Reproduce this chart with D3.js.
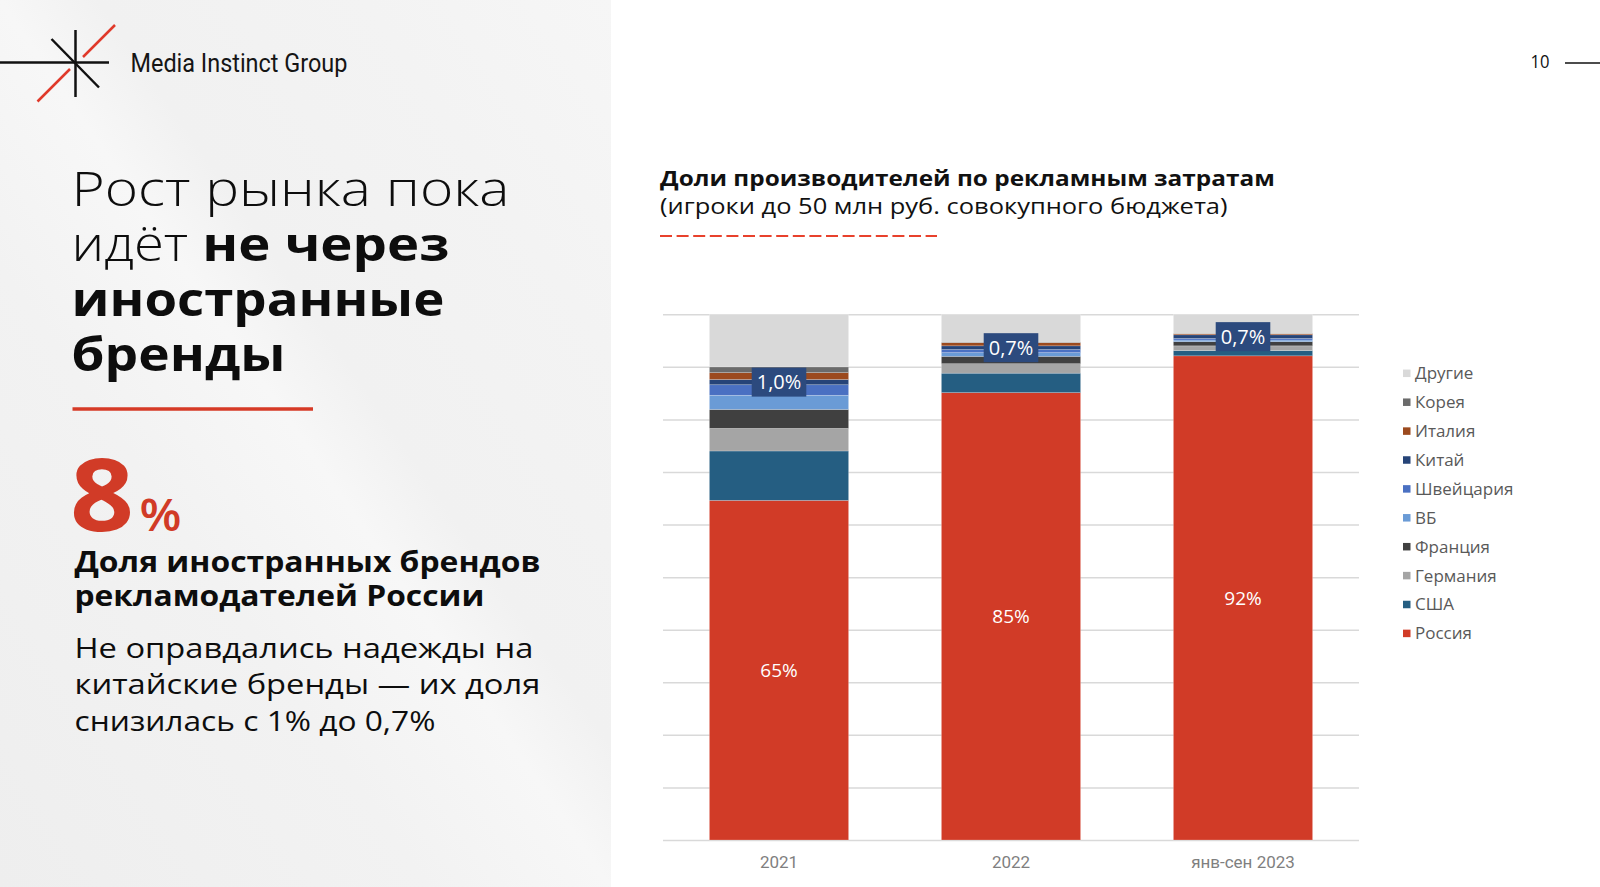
<!DOCTYPE html>
<html>
<head>
<meta charset="utf-8">
<script src="https://cdn.jsdelivr.net/npm/d3@7"></script>
<style>
  html, body { margin: 0; padding: 0; background: #ffffff; }
  svg { display: block; }
  text { font-family: "Open Sans", "Noto Sans", sans-serif; }
</style>
</head>
<body>
<svg id="chart" width="1600" height="887"></svg>
<script>
// ---------- DATA ----------
const categories = ["2021", "2022", "янв-сен 2023"];
const seriesNames = ["Россия", "США", "Германия", "Франция", "ВБ", "Швейцария", "Китай", "Италия", "Корея", "Другие"];
const russia      = [64.6, 85.1, 92.1];
const usa         = [9.4, 3.7, 1.0];
const germany     = [4.3, 1.8, 0.9];
const france      = [3.6, 1.4, 0.8];
const uk          = [2.7, 0.7, 0.3];
const switzerland = [2.0, 0.6, 0.3];
const china       = [1.0, 0.7, 0.7];
const italy       = [1.3, 0.6, 0.2];
const korea       = [1.1, 0.1, 0.1];
const other       = [10.0, 5.3, 3.6];
const russiaLabels = ["65%", "85%", "92%"];
const chinaLabels  = ["1,0%", "0,7%", "0,7%"];
const yTicks = [0, 10, 20, 30, 40, 50, 60, 70, 80, 90, 100];

const seriesColors = ["#d13b27", "#255e82", "#a5a5a5", "#404040", "#6a9bd6", "#4a70c2", "#264478", "#9c4a1e", "#6b6b6b", "#d9d9d9"];

const seriesValues = [russia, usa, germany, france, uk, switzerland, china, italy, korea, other];
const table = categories.map((c, i) => {
  const row = { cat: c };
  seriesNames.forEach((s, j) => row[s] = seriesValues[j][i]);
  return row;
});

// ---------- SVG ----------
const svg = d3.select("#chart");
const defs = svg.append("defs");

// left panel background
const grad = defs.append("linearGradient").attr("id", "bg")
  .attr("x1", "0").attr("y1", "1").attr("x2", "1").attr("y2", "0");
[["0", "#eeeeee"], ["0.35", "#f2f2f2"], ["0.5", "#f7f7f7"], ["0.58", "#f1f1f1"], ["0.8", "#f3f3f3"], ["1", "#f6f6f6"]]
  .forEach(([o, c]) => grad.append("stop").attr("offset", o).attr("stop-color", c));
svg.append("rect").attr("x", 0).attr("y", 0).attr("width", 611).attr("height", 887).attr("fill", "url(#bg)");

function fitText(parent, x, y, parts, size, targetW, fill, family) {
  const t = parent.append("text").attr("font-size", size).attr("fill", fill);
  if (family) t.style("font-family", family);
  parts.forEach(p => t.append("tspan").attr("font-weight", p.w).text(p.t));
  const w = t.node().getBBox().width;
  const sx = targetW ? targetW / w : 1;
  t.attr("transform", `translate(${x},${y}) scale(${sx},1)`);
  return t;
}

// ---------- LOGO ----------
const logo = svg.append("g");
logo.append("line").attr("x1", 0).attr("y1", 62.5).attr("x2", 109).attr("y2", 62.5).attr("stroke", "#111").attr("stroke-width", 2.5);
logo.append("line").attr("x1", 75.5).attr("y1", 30).attr("x2", 75.5).attr("y2", 97).attr("stroke", "#111").attr("stroke-width", 2.5);
logo.append("line").attr("x1", 51.5).attr("y1", 39).attr("x2", 99).attr("y2", 87.5).attr("stroke", "#111").attr("stroke-width", 2.5);
logo.append("line").attr("x1", 115).attr("y1", 25).attr("x2", 83).attr("y2", 57).attr("stroke", "#e0392a").attr("stroke-width", 2.5);
logo.append("line").attr("x1", 70).attr("y1", 69).attr("x2", 37.5).attr("y2", 101.5).attr("stroke", "#e0392a").attr("stroke-width", 2.5);
fitText(svg, 130.5, 72, [{ t: "Media Instinct Group", w: 400 }], 25, 217, "#151515", "Roboto");

// ---------- LEFT TEXT ----------
const ink = "#0d0d0d";
fitText(svg, 71.5, 206, [{ t: "Рост рынка пока", w: 300 }], 47, 438, ink);
fitText(svg, 71.5, 261, [{ t: "идёт ", w: 300 }, { t: "не через", w: 700 }], 47, 378, ink);
fitText(svg, 71.5, 316, [{ t: "иностранные", w: 700 }], 47, 373, ink);
fitText(svg, 71.5, 371, [{ t: "бренды", w: 700 }], 47, 214, ink);
svg.append("line").attr("x1", 72.5).attr("x2", 313).attr("y1", 409).attr("y2", 409)
  .attr("stroke", "#d63a26").attr("stroke-width", 3.5);

fitText(svg, 70, 531, [{ t: "8", w: 700 }], 100, 64, "#d13b27");
fitText(svg, 139.5, 531, [{ t: "%", w: 600 }], 46, 42, "#d13b27");
fitText(svg, 74.5, 572, [{ t: "Доля иностранных брендов", w: 700 }], 28, 466, ink);
fitText(svg, 74.5, 606, [{ t: "рекламодателей России", w: 700 }], 28, 410, ink);
fitText(svg, 74.5, 658, [{ t: "Не оправдались надежды на", w: 400 }], 27, 459, ink);
fitText(svg, 74.5, 694, [{ t: "китайские бренды — их доля", w: 400 }], 27, 466, ink);
fitText(svg, 74.5, 731, [{ t: "снизилась с 1% до 0,7%", w: 400 }], 27, 361, ink);

// ---------- PAGE NUMBER ----------
fitText(svg, 1530.5, 68, [{ t: "10", w: 400 }], 19, 19, "#111");
svg.append("line").attr("x1", 1565).attr("x2", 1600).attr("y1", 63).attr("y2", 63).attr("stroke", "#111").attr("stroke-width", 1.5);

// ---------- CHART TITLE ----------
fitText(svg, 660, 186, [{ t: "Доли производителей по рекламным затратам", w: 700 }], 21, 615, "#111");
fitText(svg, 660, 214, [{ t: "(игроки до 50 млн руб. совокупного бюджета)", w: 400 }], 21, 568, "#111");
svg.append("line").attr("x1", 660).attr("x2", 937).attr("y1", 236).attr("y2", 236)
  .attr("stroke", "#e8412c").attr("stroke-width", 2).attr("stroke-dasharray", "12,4.6");

// ---------- CHART ----------
const plotL = 663, plotR = 1359, plotT = 314.3, plotB = 840;
const x = d3.scaleBand().domain(categories).range([plotL, plotR]).paddingInner(0.4).paddingOuter(0.2);
const y = d3.scaleLinear().domain([0, 100]).range([plotB, plotT]);
const color = d3.scaleOrdinal().domain(seriesNames).range(seriesColors);

// gridlines
const grid = svg.append("g").attr("transform", `translate(${plotL},0)`)
  .call(d3.axisLeft(y).tickValues(yTicks).tickSize(-(plotR - plotL)).tickFormat(""));
grid.select(".domain").remove();
grid.selectAll(".tick line").attr("stroke", "#d9d9d9").attr("stroke-width", 1.5);

const stacked = d3.stack().keys(seriesNames)(table);

const layers = svg.append("g").selectAll("g").data(stacked).join("g")
  .attr("fill", d => color(d.key));
layers.selectAll("rect").data(d => d).join("rect")
  .attr("x", d => x(d.data.cat))
  .attr("width", x.bandwidth())
  .attr("y", d => y(d[1]))
  .attr("height", d => y(d[0]) - y(d[1]))
  .attr("stroke", "#ffffff").attr("stroke-opacity", 0.35).attr("stroke-width", 0.6);

// Russia labels
const rusLayer = stacked[0];
svg.append("g").selectAll("text").data(rusLayer).join("text")
  .attr("x", d => x(d.data.cat) + x.bandwidth() / 2)
  .attr("y", d => (y(d[0]) + y(d[1])) / 2)
  .attr("dy", "0.35em")
  .attr("text-anchor", "middle")
  .attr("fill", "#ffffff")
  .attr("font-size", 19)
  .text((d, i) => russiaLabels[i]);

// China labels (boxed)
const chinaLayer = stacked[seriesNames.indexOf("Китай")];
const cl = svg.append("g").selectAll("g").data(chinaLayer).join("g")
  .attr("transform", d => `translate(${x(d.data.cat) + x.bandwidth() / 2},${(y(d[0]) + y(d[1])) / 2})`);
cl.each(function (d, i) {
  const g = d3.select(this);
  const r = g.append("rect").attr("fill", "#2c4a7e");
  const t = g.append("text").attr("text-anchor", "middle").attr("dy", "0.36em")
    .attr("fill", "#ffffff").attr("font-size", 20).text(chinaLabels[i]);
  const w = t.node().getBBox().width + 10;
  r.attr("x", -w / 2).attr("y", -14.5).attr("width", w).attr("height", 29);
});

// x axis labels
const xAxis = svg.append("g").attr("transform", `translate(0,${plotB})`)
  .call(d3.axisBottom(x).tickSize(0).tickPadding(16));
xAxis.select(".domain").remove();
xAxis.selectAll("text").attr("fill", "#7f7f7f").attr("font-size", 17)
  .style("font-family", "Roboto, 'Liberation Sans', sans-serif");

// legend
const legendOrder = seriesNames.slice().reverse();
const lg = svg.append("g").selectAll("g").data(legendOrder).join("g")
  .attr("transform", (d, i) => `translate(1403,${373.3 + i * 28.9})`);
lg.append("rect").attr("x", 0).attr("y", -3.75).attr("width", 7.5).attr("height", 7.5).attr("fill", d => color(d));
lg.append("text").attr("x", 12).attr("dy", "0.35em").attr("fill", "#595959").attr("font-size", 17).text(d => d);
</script>
</body>
</html>
